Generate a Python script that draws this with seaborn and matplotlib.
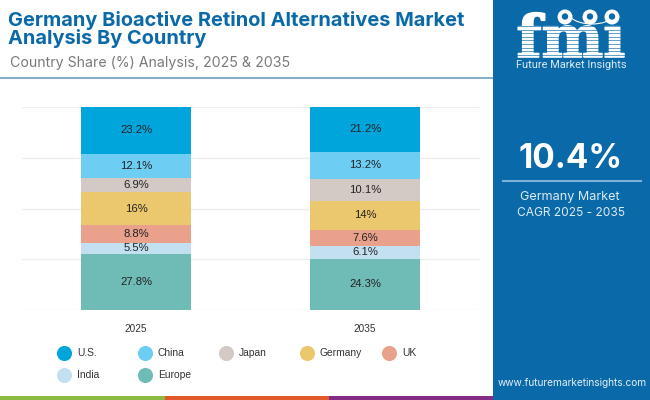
import numpy as np
import matplotlib
matplotlib.use("Agg")
import matplotlib.pyplot as plt
import matplotlib.patheffects as pe
from matplotlib.patches import Arc, Circle, Rectangle
import seaborn as sns

years = ["2025", "2035"]
countries = ["Europe", "India", "UK", "Germany", "Japan", "China", "U.S."]
share_2025 = [27.8, 5.5, 8.8, 16, 6.9, 12.1, 23.2]
share_2035 = [24.3, 6.1, 7.6, 14, 10.1, 13.2, 21.2]
legend_order = ["U.S.", "China", "Japan", "Germany", "UK", "India", "Europe"]

colors = {
    "U.S.": "#00A5DC",
    "China": "#6DCDF3",
    "Japan": "#D3C9C5",
    "Germany": "#EBC76E",
    "UK": "#EAA18B",
    "India": "#C3E0F1",
    "Europe": "#6FBBB6",
}

BLUE = "#0A69A8"
W, H = 650, 400

sns.set_theme(style="white")
plt.rcParams["font.family"] = ["Liberation Sans", "DejaVu Sans"]

fig = plt.figure(figsize=(W / 100, H / 100), dpi=100, facecolor="white")

# Background layer in pixel coordinates
bg = fig.add_axes([0, 0, 1, 1])
bg.set_xlim(0, W)
bg.set_ylim(H, 0)
bg.axis("off")

bg.add_patch(Rectangle((493, 0), 157, 400, color=BLUE, lw=0))
bg.add_patch(Rectangle((0, 395.5), 165, 4.5, color="#8BBB40", lw=0))
bg.add_patch(Rectangle((165, 395.5), 164, 4.5, color="#E0592A", lw=0))
bg.add_patch(Rectangle((329, 395.5), 164, 4.5, color="#842C85", lw=0))
bg.plot([0, 493], [78, 78], color="#86AFC6", lw=1.5, solid_capstyle="butt")

bg.text(8, 20, "Germany Bioactive Retinol Alternatives Market", color=BLUE,
        family="Inter", weight="bold", fontsize=14.4, va="center")
bg.text(8, 38.5, "Analysis By Country", color=BLUE,
        family="Inter", weight="bold", fontsize=14.4, va="center")
bg.text(9.5, 63, "Country Share (%) Analysis, 2025 & 2035", color="#7A7A7A",
        family="Inter", fontsize=10.2, va="center")

# Side panel
bg.text(571, 159, "10.4%", color="white", family="Inter", weight="bold",
        fontsize=24, ha="center", va="center")
bg.plot([502, 642], [181, 181], color="#7FB2DA", lw=1.5, solid_capstyle="butt")
bg.text(570, 197, "Germany Market", color="#DCEBF5", family="Inter",
        fontsize=9.1, ha="center", va="center")
bg.text(571, 213.5, "CAGR 2025 - 2035", color="#DCEBF5", family="Inter",
        fontsize=8.6, ha="center", va="center")
bg.text(572, 383, "www.futuremarketinsights.com", color="#E6F0F7", family="Inter",
        fontsize=7.3, ha="center", va="center")

# Logo, stripes go over the letters
logo = bg.text(571, 57, "fm\u0131", color="white", family="DejaVu Serif", weight="bold",
               fontsize=42, ha="center", va="baseline", zorder=3)
logo.set_path_effects([pe.withStroke(linewidth=1.2, foreground="white")])
for y in np.arange(26, 57, 3.6):
    bg.plot([510, 632], [y, y], color=BLUE, lw=0.45, zorder=4)
for x in [565, 590, 612]:
    bg.add_patch(Circle((x, 17), 7.5, color="white", lw=0, zorder=5))
    bg.add_patch(Circle((x, 16.5), 3.2, color=BLUE, lw=0, zorder=6))
bg.add_patch(Arc((592, 8), 54, 32, theta1=20, theta2=160, color="white", lw=0.8, zorder=5))
bg.text(571, 65, "Future Market Insights", color="#DCEBF5", family="Roboto",
        fontsize=7.9, ha="center", va="center")

# Legend
col_x = [64, 145, 226, 307, 389]
row_y = [353, 375]
for i, name in enumerate(legend_order):
    x, y = col_x[i % 5], row_y[i // 5]
    bg.scatter([x], [y], s=118, color=colors[name], linewidths=0)
    bg.text(x + 13, y + 0.3, name, color="#333333", fontsize=7.4, va="center")

# Chart
ax = fig.add_axes([21.5 / W, (H - 310) / H, 458 / W, 203 / H])
ax.patch.set_alpha(0)

shares = np.array([share_2025, share_2035], dtype=float)
fractions = shares / shares.sum(axis=1, keepdims=True)
bottoms = np.zeros(2)

for i, name in enumerate(countries):
    sns.barplot(x=years, y=fractions[:, i], bottom=bottoms, color=colors[name],
                saturation=1, width=0.48, linewidth=0, ax=ax)
    ax.bar_label(ax.containers[-1], labels=[f"{v:g}%" for v in shares[:, i]],
                 label_type="center", fontsize=8.1, color="#222222")
    bottoms = bottoms + fractions[:, i]

ax.set_xlim(-0.5, 1.5)
ax.set_ylim(0, 1)
ax.set_yticks([0, 0.25, 0.5, 0.75, 1])
ax.set_yticklabels([])
ax.set_ylabel("")
ax.grid(axis="y", color="#EDEDED", lw=1)
ax.set_axisbelow(True)
ax.tick_params(axis="x", length=0, pad=10, labelsize=7.2, labelcolor="#333333")
ax.tick_params(axis="y", length=0)
sns.despine(ax=ax, left=True, bottom=True)

fig.savefig("out.png", dpi=100)
